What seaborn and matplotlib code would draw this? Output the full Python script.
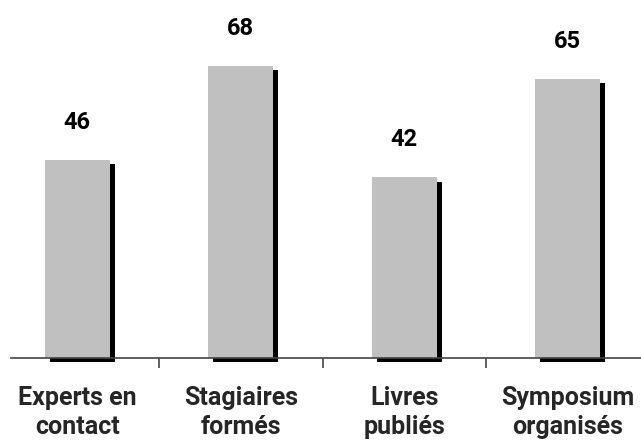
import matplotlib
matplotlib.use("Agg")
import matplotlib.pyplot as plt
import matplotlib.patheffects as pe
import seaborn as sns
import pandas as pd

# values
categories = ["Experts en\ncontact", "Stagiaires\nformés", "Livres\npubliés", "Symposium\norganisés"]
values = [46, 68, 42, 65]

df = pd.DataFrame({"categorie": categories, "valeur": values})

sns.set_style("white")
plt.rcParams["font.family"] = ["Roboto", "DejaVu Sans"]

fig = plt.figure(figsize=(6.41, 4.41), dpi=100)
# axes a bit wider than the figure, like the cropped original
ax = fig.add_axes([-4.5 / 641, 83 / 441, 654 / 641, 358 / 441])

sns.barplot(data=df, x="categorie", y="valeur", order=categories, color="#c0c0c0",
            saturation=1, width=0.40, linewidth=0, ax=ax)

# black drop shadow to the lower right of each bar
for bar in ax.patches:
    bar.set_clip_on(False)
    bar.set_path_effects([
        pe.SimplePatchShadow(offset=(3.6, -3.0), shadow_rgbFace="black", alpha=1.0),
        pe.Normal(),
    ])

# value labels above the bars
for i, v in enumerate(values):
    ax.annotate(str(v), xy=(i, v), xytext=(0, 27), textcoords="offset points",
                ha="center", va="center", fontsize=17, fontweight="bold", color="black")

ax.set_xlim(-0.5, 3.5)
ax.set_ylim(0, 358 / 4.3)
ax.set_xlabel("")
ax.set_ylabel("")
ax.set_yticks([])

for side in ["top", "right", "left"]:
    ax.spines[side].set_visible(False)
ax.spines["bottom"].set_color("#444444")
ax.spines["bottom"].set_linewidth(1.2)
ax.spines["bottom"].set_bounds(-0.5 + 15.5 / 163.5, 3.5)

# separators between categories, labels centred under each slot
ax.set_xticks([0.5, 1.5, 2.5], minor=True)
ax.tick_params(axis="x", which="both", bottom=True)
ax.tick_params(axis="x", which="minor", length=7, width=1.2, color="#444444", direction="out")
ax.tick_params(axis="x", which="major", length=0, pad=20, labelsize=18)
for lab in ax.get_xticklabels():
    lab.set_fontweight("bold")
    lab.set_linespacing(1.25)

fig.savefig("out.png", dpi=100)
